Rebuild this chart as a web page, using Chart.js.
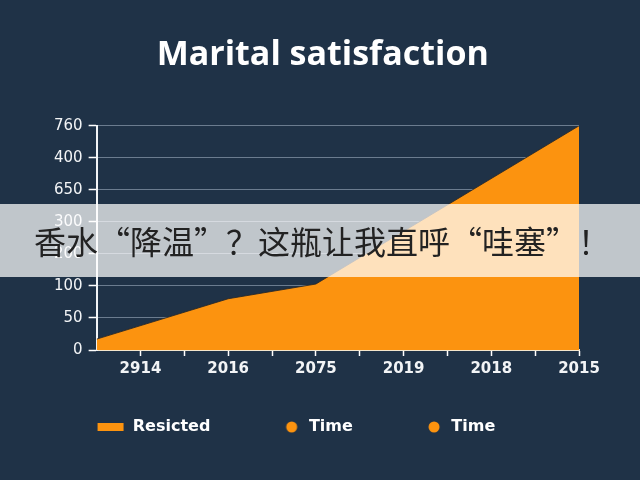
<!DOCTYPE html>
<html lang="zh-CN">
<head>
<meta charset="utf-8">
<script src="https://cdn.jsdelivr.net/npm/chart.js@4.4.1/dist/chart.umd.min.js"></script>
<style>
  html, body { margin: 0; padding: 0; background: #1f3247; }
  #wrap { position: relative; width: 640px; height: 480px; background: #1f3247; overflow: hidden; }
  #c { position: absolute; left: 0; top: 0; }
  #banner {
    position: absolute; left: 0; top: 204px; width: 636px; height: 73px; padding-left: 4px;
    background: rgba(255,255,255,0.72);
    color: #222; font-family: "Noto Sans CJK SC", sans-serif; font-size: 32px;
    line-height: 73px; text-align: center; white-space: nowrap;
  }
</style>
</head>
<body>
<div id="wrap">
  <canvas id="c" width="640" height="480"></canvas>
  <div id="banner">香水“降温”？这瓶让我直呼“哇塞”！</div>
</div>
<script>
// ---- data ----
const titleText = 'Marital satisfaction';
const xTickLabels = ['2914', '2016', '2075', '2019', '2018', '2015'];
const yTickLabels = ['0', '50', '100', '200', '300', '650', '400', '760'];
const seriesName = 'Resicted';
const extraSeriesNames = ['Time', 'Time'];
// positions along the category axis (index units) and values (tick-index units)
const areaX = [-0.5, 1, 2, 5];
const areaY = [0.34, 1.6, 2.06, 7.0];

const ORANGE = '#fc930f';
const WHITE = '#f2f4f6';

// legend markers (image centred on the legend box, marker near the text)
function makeRect() {
  const c = document.createElement('canvas');
  c.width = 100; c.height = 12;
  const g = c.getContext('2d');
  g.fillStyle = ORANGE; g.fillRect(63, 2, 26, 8);
  return c;
}
function makeDot() {
  const c = document.createElement('canvas');
  c.width = 100; c.height = 12;
  const g = c.getContext('2d');
  g.fillStyle = ORANGE; g.beginPath(); g.arc(81, 6, 5.5, 0, Math.PI * 2); g.fill();
  return c;
}
const rectImg = makeRect();
const dotImg = makeDot();

const areaData = areaX.map((x, i) => ({ x: x, y: areaY[i] }));

const boxShift = {
  id: 'boxShift',
  afterLayout(chart) {
    const t = chart.titleBlock;
    if (t) { t.left += 20; t.right += 20; }
    const l = chart.legend;
    if (l) { l.left -= 33; l.right -= 33; }
  }
};

new Chart(document.getElementById('c'), {
  type: 'line',
  data: {
    datasets: [
      {
        label: seriesName,
        data: areaData,
        fill: 'origin',
        backgroundColor: ORANGE,
        borderColor: 'rgba(40,40,40,0.85)',
        borderWidth: 1,
        pointRadius: 0,
        pointStyle: rectImg,
        tension: 0
      },
      {
        label: extraSeriesNames[0],
        data: [],
        backgroundColor: ORANGE,
        borderColor: ORANGE,
        pointStyle: dotImg
      },
      {
        label: extraSeriesNames[1],
        data: [],
        backgroundColor: ORANGE,
        borderColor: ORANGE,
        pointStyle: dotImg
      }
    ]
  },
  plugins: [boxShift],
  options: {
    responsive: false,
    animation: false,
    layout: { padding: { left: 26.5, right: 61, top: 0, bottom: 35 } },
    plugins: {
      title: {
        display: true,
        text: titleText,
        color: '#ffffff',
        font: { family: 'Open Sans', size: 34, weight: 'bold' },
        padding: { top: 35, bottom: 50 }
      },
      legend: {
        position: 'bottom',
        labels: {
          usePointStyle: true,
          pointStyleWidth: 80.5,
          boxHeight: 10,
          color: '#ffffff',
          font: { family: 'DejaVu Sans', size: 16, weight: 'bold' },
          padding: 10
        }
      },
      tooltip: { enabled: false }
    },
    scales: {
      x: {
        type: 'linear',
        min: -0.5,
        max: 5,
        afterFit: (scale) => { scale.height += 27; },
        ticks: {
          stepSize: 0.5,
          autoSkip: false,
          maxRotation: 0,
          color: WHITE,
          font: { family: 'DejaVu Sans', size: 15, weight: 'bold' },
          padding: 4,
          callback: (v) => Number.isInteger(v) ? xTickLabels[v] : ''
        },
        grid: {
          drawOnChartArea: false,
          drawTicks: true,
          tickLength: 6,
          tickWidth: 1.5,
          tickColor: (ctx) => (ctx.tick && ctx.tick.value === -0.5) ? 'rgba(0,0,0,0)' : '#ffffff'
        },
        border: { display: true, color: '#f4e6cc', width: 2 }
      },
      y: {
        type: 'linear',
        min: 0,
        max: 7,
        afterFit: (scale) => { scale.width += 21.5; },
        ticks: {
          stepSize: 1,
          color: WHITE,
          font: { family: 'DejaVu Sans', size: 15 },
          padding: 6,
          callback: (v) => yTickLabels[v]
        },
        grid: {
          color: 'rgba(200,215,230,0.45)',
          lineWidth: 1,
          drawTicks: true,
          tickLength: 8,
          tickColor: '#ffffff',
          tickWidth: 1.5
        },
        border: { display: true, color: '#f2f4f6', width: 2 }
      }
    }
  }
});
</script>
</body>
</html>
